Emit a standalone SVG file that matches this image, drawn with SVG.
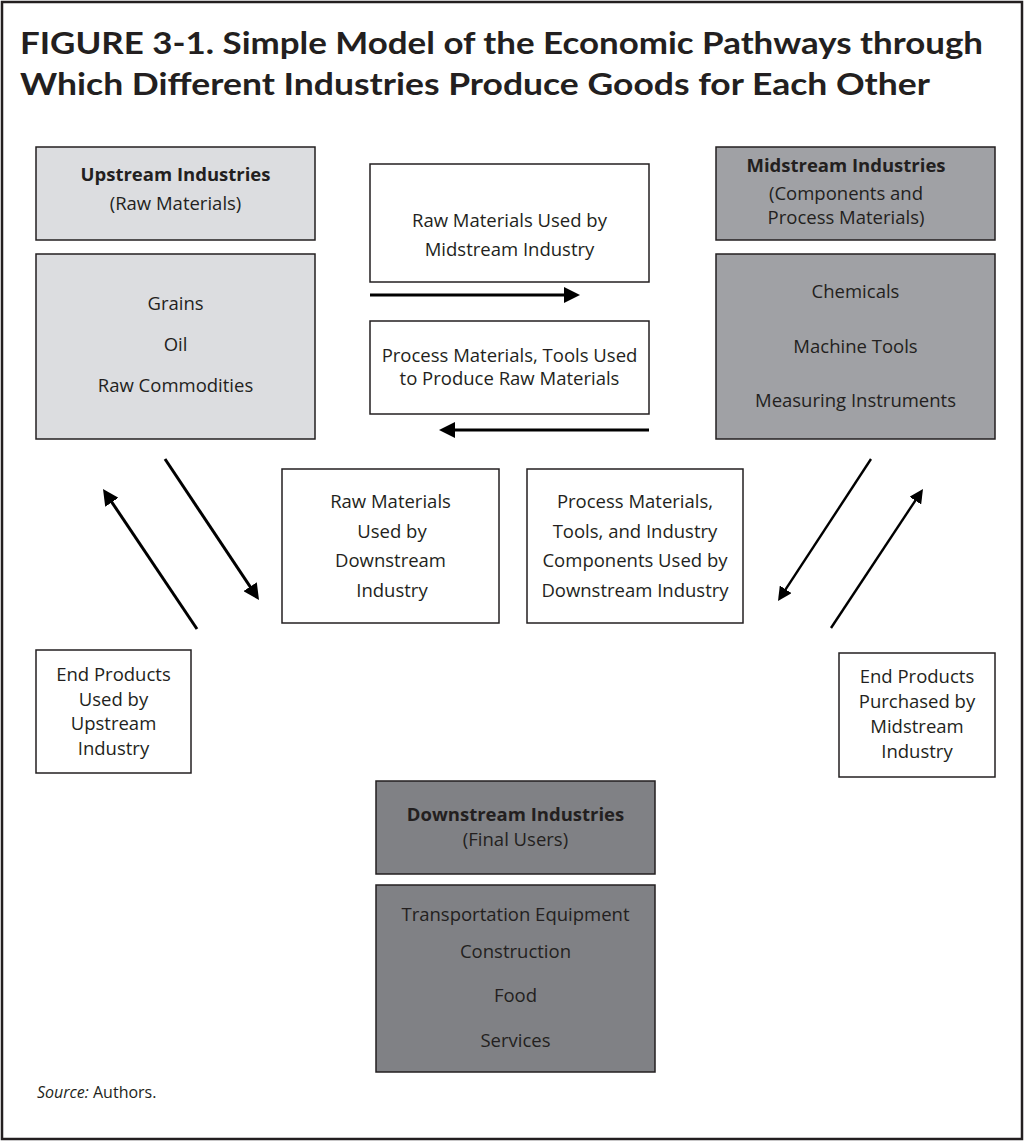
<svg xmlns="http://www.w3.org/2000/svg" width="1024" height="1142" viewBox="0 0 1024 1142">
<style>
  .t{font-family:"Open Sans","Liberation Sans",sans-serif;font-size:18.5px;fill:#231f20;text-anchor:middle}
  .b{font-weight:bold}
  .title{font-family:Lato,"Liberation Sans",sans-serif;font-weight:bold;font-size:31px;fill:#231f20}
  .box{stroke:#231f20;stroke-width:1.5}
  .w{fill:#ffffff}
  .up{fill:#dcdde0}
  .mid{fill:#a0a1a5}
  .down{fill:#808185}
  .arr{stroke:#000;fill:none;stroke-width:3}
  .arr2{stroke:#000;fill:none;stroke-width:2.4}
</style>
<defs>
  <marker id="ah" markerUnits="userSpaceOnUse" markerWidth="16" markerHeight="16" refX="12" refY="8" orient="auto">
    <path d="M0,0 L16,8 L0,16 z" fill="#000"/>
  </marker>
  <marker id="ah2" markerUnits="userSpaceOnUse" markerWidth="14" markerHeight="14" refX="10" refY="7" orient="auto">
    <path d="M0,0 L14,7 L0,14 z" fill="#000"/>
  </marker>
</defs>
<rect x="2" y="2" width="1020" height="1137" fill="#ffffff" stroke="#231f20" stroke-width="2.5"/>
<g id="title">
  <text class="title" x="20" y="54" textLength="963" lengthAdjust="spacingAndGlyphs">FIGURE 3-1. Simple Model of the Economic Pathways through</text>
  <text class="title" x="20" y="95" textLength="910" lengthAdjust="spacingAndGlyphs">Which Different Industries Produce Goods for Each Other</text>
</g>
<g id="upstream-header">
  <rect class="box up" x="36" y="147" width="279" height="93"/>
  <text class="t b" x="175.5" y="181">Upstream Industries</text>
  <text class="t" x="175.5" y="210">(Raw Materials)</text>
</g>
<g id="upstream-body">
  <rect class="box up" x="36" y="254" width="279" height="185"/>
  <text class="t" x="175.5" y="310">Grains</text>
  <text class="t" x="175.5" y="351">Oil</text>
  <text class="t" x="175.5" y="392">Raw Commodities</text>
</g>
<g id="midstream-header">
  <rect class="box mid" x="716" y="147" width="279" height="93"/>
  <text class="t b" x="846" y="172">Midstream Industries</text>
  <text class="t" x="846" y="200">(Components and</text>
  <text class="t" x="846" y="224">Process Materials)</text>
</g>
<g id="midstream-body">
  <rect class="box mid" x="716" y="254" width="279" height="185"/>
  <text class="t" x="855.5" y="298">Chemicals</text>
  <text class="t" x="855.5" y="353">Machine Tools</text>
  <text class="t" x="855.5" y="407">Measuring Instruments</text>
</g>
<g id="raw-to-mid">
  <rect class="box w" x="370" y="164" width="279" height="118"/>
  <text class="t" x="509.5" y="227">Raw Materials Used by</text>
  <text class="t" x="509.5" y="256">Midstream Industry</text>
</g>
<g id="process-to-raw">
  <rect class="box w" x="370" y="321" width="279" height="93"/>
  <text class="t" x="509.5" y="362">Process Materials, Tools Used</text>
  <text class="t" x="509.5" y="385">to Produce Raw Materials</text>
</g>
<g id="raw-to-down">
  <rect class="box w" x="282" y="469" width="217" height="154"/>
  <text class="t" x="390.5" y="508">Raw Materials</text>
  <text class="t" x="392" y="538">Used by</text>
  <text class="t" x="390.5" y="567">Downstream</text>
  <text class="t" x="392" y="597">Industry</text>
</g>
<g id="process-to-down">
  <rect class="box w" x="527" y="469" width="216" height="154"/>
  <text class="t" x="635" y="508">Process Materials,</text>
  <text class="t" x="635" y="538">Tools, and Industry</text>
  <text class="t" x="635" y="567">Components Used by</text>
  <text class="t" x="635" y="597">Downstream Industry</text>
</g>
<g id="end-up">
  <rect class="box w" x="36" y="650" width="155" height="123"/>
  <text class="t" x="113.5" y="681">End Products</text>
  <text class="t" x="113.5" y="706">Used by</text>
  <text class="t" x="113.5" y="730">Upstream</text>
  <text class="t" x="113.5" y="755">Industry</text>
</g>
<g id="end-mid">
  <rect class="box w" x="839" y="653" width="156" height="124"/>
  <text class="t" x="917" y="683">End Products</text>
  <text class="t" x="917" y="708">Purchased by</text>
  <text class="t" x="917" y="733">Midstream</text>
  <text class="t" x="917" y="758">Industry</text>
</g>
<g id="downstream-header">
  <rect class="box down" x="376" y="781" width="279" height="93"/>
  <text class="t b" x="515.5" y="821">Downstream Industries</text>
  <text class="t" x="515.5" y="846">(Final Users)</text>
</g>
<g id="downstream-body">
  <rect class="box down" x="376" y="885" width="279" height="187"/>
  <text class="t" x="515.5" y="921">Transportation Equipment</text>
  <text class="t" x="515.5" y="958">Construction</text>
  <text class="t" x="515.5" y="1002">Food</text>
  <text class="t" x="515.5" y="1047">Services</text>
</g>
<g id="connectors">
  <line class="arr" x1="370" y1="295" x2="576" y2="295" marker-end="url(#ah)"/>
  <line class="arr" x1="649" y1="430" x2="443" y2="430" marker-end="url(#ah)"/>
  <line class="arr" x1="165" y1="459" x2="256.8" y2="596.7" marker-end="url(#ah)"/>
  <line class="arr" x1="197" y1="629" x2="105.2" y2="492.3" marker-end="url(#ah)"/>
  <line class="arr2" x1="871" y1="459" x2="780.2" y2="597.7" marker-end="url(#ah2)"/>
  <line class="arr2" x1="831" y1="628" x2="920.8" y2="492.3" marker-end="url(#ah2)"/>
</g>
<text x="37" y="1098" style="font-family:'Open Sans','Liberation Sans',sans-serif;font-size:16px;fill:#231f20"><tspan font-style="italic">Source:</tspan> Authors.</text>
</svg>
